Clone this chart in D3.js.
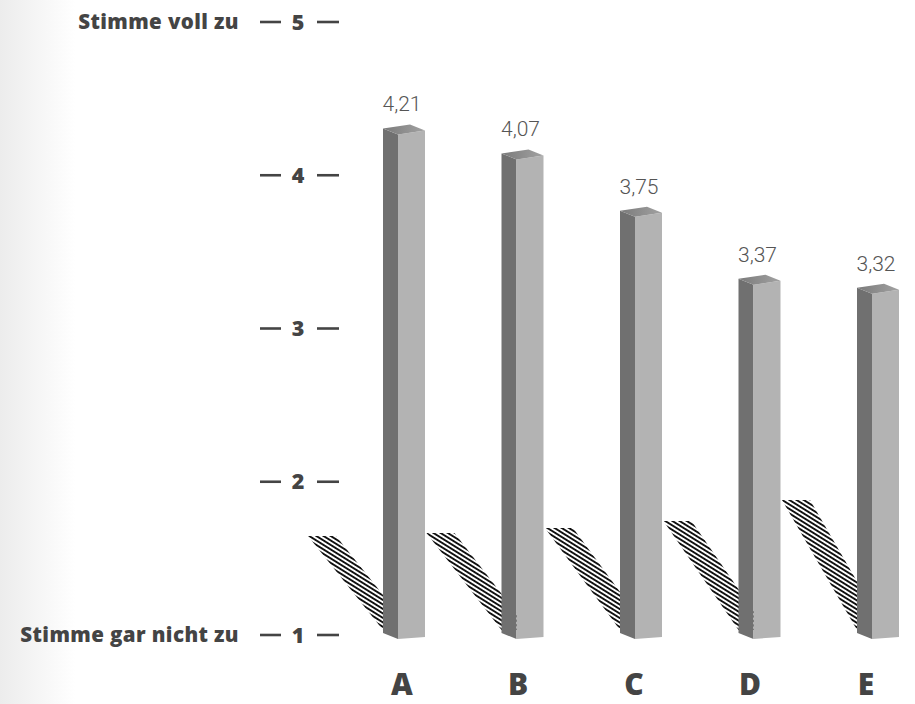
<!DOCTYPE html>
<html>
<head>
<meta charset="utf-8">
<script src="https://cdn.jsdelivr.net/npm/d3@7"></script>
<style>
  html, body { margin: 0; padding: 0; background: #fff; }
  svg { display: block; }
</style>
</head>
<body>
<svg id="chart" width="915" height="704"></svg>
<script>
// Survey items and their mean agreement scores (1–5 scale)
const categories = ["A", "B", "C", "D", "E"];
const values = [4.21, 4.07, 3.75, 3.37, 3.32];
const valueLabels = ["4,21", "4,07", "3,75", "3,37", "3,32"];
const tickValues = [1, 2, 3, 4, 5];
const tickEndLabels = { 5: "Stimme voll zu", 1: "Stimme gar nicht zu" };

const W = 915, H = 704;
const svg = d3.select("#chart");
const defs = svg.append("defs");
const boldFont = "'Open Sans', Lato, sans-serif";

// soft grey fade along the left edge
const bgGrad = defs.append("linearGradient").attr("id", "bgFade")
  .attr("x1", 0).attr("x2", 1).attr("y1", 0).attr("y2", 0);
bgGrad.append("stop").attr("offset", 0).attr("stop-color", "#ececec");
bgGrad.append("stop").attr("offset", 1).attr("stop-color", "#ffffff");
svg.append("rect").attr("width", W).attr("height", H).attr("fill", "#fff");
svg.append("rect").attr("width", 75).attr("height", H).attr("fill", "url(#bgFade)");

// hatch fill for the cast shadows
const hatch = defs.append("pattern").attr("id", "hatch")
  .attr("patternUnits", "userSpaceOnUse")
  .attr("width", 8).attr("height", 3.8)
  .attr("patternTransform", "rotate(32)");
hatch.append("line").attr("x1", -1).attr("x2", 9).attr("y1", 1.9).attr("y2", 1.9)
  .attr("stroke", "#111").attr("stroke-width", 1.9);

// top face shading
const topGrad = defs.append("linearGradient").attr("id", "topFace")
  .attr("x1", 0).attr("x2", 1).attr("y1", 0).attr("y2", 0);
topGrad.append("stop").attr("offset", 0).attr("stop-color", "#7a7a7a");
topGrad.append("stop").attr("offset", 1).attr("stop-color", "#a2a2a2");

// scales
const yAxis = d3.scaleLinear().domain([1, 5]).range([635, 22]);
const yBar = d3.scaleLinear().domain([1, 5]).range([709, -7]);
const xBar = d3.scalePoint().domain(categories).range([404, 878]);
const xLabel = d3.scalePoint().domain(categories).range([402, 866]);

// bar geometry (pseudo‑3D prism)
const sideW = 15, frontW = 27, sideSkew = 6, frontSkew = 4;
const baseY = 639;
// shadow top edge for each bar (decorative cast shadow)
const shadowTop = [536, 533, 528, 521, 500];
const shadowReach = 75, shadowW = 28, shadowBase = 630;

// axis ticks: "— n —"
const axisColor = "#444";
const ticks = svg.append("g").attr("class", "y-axis");
tickValues.forEach(t => {
  const y = yAxis(t);
  const g = ticks.append("g");
  g.append("line").attr("x1", 260).attr("x2", 281).attr("y1", y).attr("y2", y)
    .attr("stroke", axisColor).attr("stroke-width", 2.6);
  g.append("line").attr("x1", 317).attr("x2", 339).attr("y1", y).attr("y2", y)
    .attr("stroke", axisColor).attr("stroke-width", 2.6);
  g.append("text").attr("x", 298).attr("y", y).attr("dy", "0.36em")
    .attr("text-anchor", "middle")
    .attr("font-family", boldFont)
    .attr("font-weight", 800).attr("font-size", 21.5)
    .attr("fill", axisColor).text(t);
  if (tickEndLabels[t]) {
    g.append("text").attr("x", 239).attr("y", y).attr("dy", "0.36em")
      .attr("text-anchor", "end")
      .attr("font-family", boldFont)
      .attr("font-weight", 800).attr("font-size", 20.5)
      .attr("letter-spacing", 0.4)
      .attr("fill", axisColor).text(tickEndLabels[t]);
  }
});

const data = categories.map((c, i) => ({ c, v: values[i], label: valueLabels[i], i }));

// shadows
svg.append("g").selectAll("polygon").data(data).join("polygon")
  .attr("fill", "url(#hatch)")
  .attr("points", d => {
    const L = xBar(d.c) - (sideW + frontW) / 2;
    const t = shadowTop[d.i];
    return [[L - shadowReach, t], [L - shadowReach + shadowW, t],
            [L + shadowW, shadowBase], [L, shadowBase]].map(p => p.join(",")).join(" ");
  });

// bars
const bars = svg.append("g").selectAll("g").data(data).join("g");
bars.each(function (d) {
  const g = d3.select(this);
  const L = xBar(d.c) - (sideW + frontW) / 2;
  const F = L + sideW;            // front face left edge
  const yt = yBar(d.v);           // front-left top corner
  // side face
  g.append("polygon").attr("fill", "#707070").attr("points", [
    [L, yt - sideSkew], [F, yt], [F, baseY], [L, baseY - sideSkew]
  ].map(p => p.join(",")).join(" "));
  // front face
  g.append("polygon").attr("fill", "#b3b3b3").attr("points", [
    [F, yt], [F + frontW, yt - frontSkew], [F + frontW, baseY - 2], [F, baseY]
  ].map(p => p.join(",")).join(" "));
  // top face
  g.append("polygon").attr("fill", "url(#topFace)").attr("points", [
    [L, yt - sideSkew], [L + frontW, yt - sideSkew - frontSkew],
    [F + frontW, yt - frontSkew], [F, yt]
  ].map(p => p.join(",")).join(" "));
  // value label
  g.append("text").attr("x", L + 19).attr("y", yt - 23)
    .attr("text-anchor", "middle")
    .attr("font-family", "Roboto, 'Open Sans', sans-serif")
    .attr("font-weight", 300).attr("font-size", 21)
    .attr("fill", "#555").text(d.label);
});

// category labels
svg.append("g").selectAll("text").data(data).join("text")
  .attr("x", d => xLabel(d.c)).attr("y", 695)
  .attr("text-anchor", "middle")
  .attr("font-family", boldFont)
  .attr("font-weight", 800).attr("font-size", 30)
  .attr("fill", axisColor).text(d => d.c);
</script>
</body>
</html>
